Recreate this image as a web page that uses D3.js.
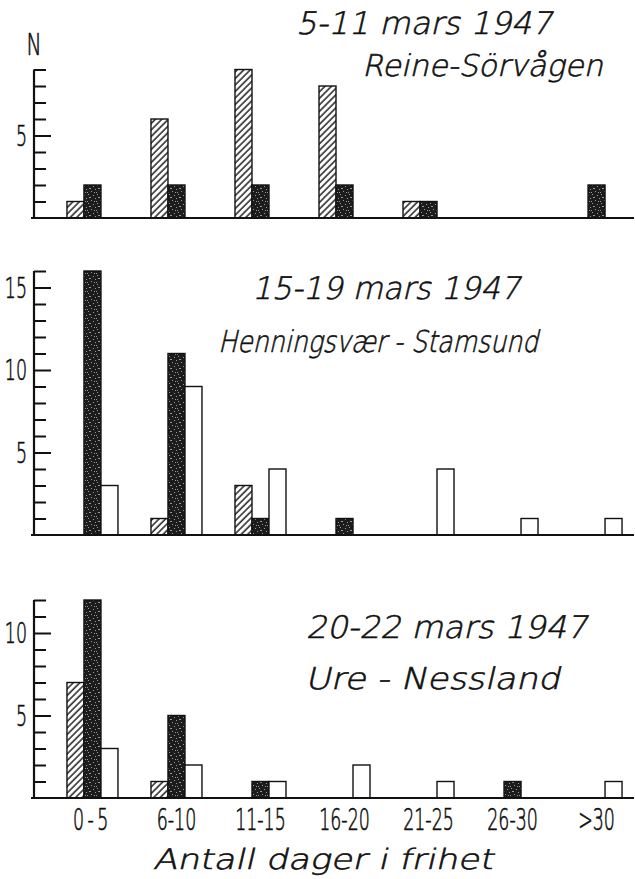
<!DOCTYPE html>
<html>
<head>
<meta charset="utf-8">
<script src="https://cdn.jsdelivr.net/npm/d3@7"></script>
<style>
  body { margin: 0; background: #fff; }
  .hand { font-family: "DejaVu Sans", sans-serif; font-weight: 200; fill: #111; stroke: #111; stroke-width: 0.6; }
  .num { font-family: "DejaVu Sans", sans-serif; font-weight: 200; fill: #111; stroke: #111; stroke-width: 0.7; }
</style>
</head>
<body>
<div id="chart"></div>
<script>
// categories (days at liberty) and the three series
let categories = ['0-5', '6-10', '11-15', '16-20', '21-25', '26-30', '>30'];
let seriesKeys = ['hatched', 'black', 'white'];

// 5-11 mars 1947, Reine - Sörvågen
let reineHatched = [1, 6, 9, 8, 1, 0, 0];
let reineBlack = [2, 2, 2, 2, 1, 0, 2];
let reineWhite = [0, 0, 0, 0, 0, 0, 0];

// 15-19 mars 1947, Henningsvær - Stamsund
let henningHatched = [0, 1, 3, 0, 0, 0, 0];
let henningBlack = [16, 11, 1, 1, 0, 0, 0];
let henningWhite = [3, 9, 4, 0, 4, 1, 1];

// 20-22 mars 1947, Ure - Nessland
let ureHatched = [7, 1, 0, 0, 0, 0, 0];
let ureBlack = [12, 5, 1, 0, 0, 1, 0];
let ureWhite = [3, 2, 1, 2, 1, 0, 1];

let panelDates = ['5-11 mars 1947', '15-19 mars 1947', '20-22 mars 1947'];
let panelPlaces = ['Reine-Sörvågen', 'Henningsvær - Stamsund', 'Ure - Nessland'];
let panelMax = [9, 16, 12];
let xTitle = 'Antall dager i frihet';
let yTitle = 'N';

const width = 635, height = 879;

let panels = [
    { hatched: reineHatched, black: reineBlack, white: reineWhite, base: 218,
      date: { x: 296, y: 34, w: 256 }, place: { x: 362, y: 76, w: 241 } },
    { hatched: henningHatched, black: henningBlack, white: henningWhite, base: 535,
      date: { x: 252, y: 299, w: 268 }, place: { x: 218, y: 352, w: 320 } },
    { hatched: ureHatched, black: ureBlack, white: ureWhite, base: 798,
      date: { x: 306, y: 638, w: 281 }, place: { x: 305, y: 689, w: 255 } }
];

let svg = d3.select('#chart').append('svg')
    .attr('width', width)
    .attr('height', height);

svg.append('rect').attr('width', width).attr('height', height).attr('fill', '#fff');

// fill patterns
let defs = svg.append('defs');
let hatch = defs.append('pattern')
    .attr('id', 'hatch')
    .attr('patternUnits', 'userSpaceOnUse')
    .attr('width', 4.6).attr('height', 4.6)
    .attr('patternTransform', 'rotate(45)');
hatch.append('rect').attr('width', 4.6).attr('height', 4.6).attr('fill', '#fff');
hatch.append('line')
    .attr('x1', 1).attr('y1', 0).attr('x2', 1).attr('y2', 4.6)
    .attr('stroke', '#111').attr('stroke-width', 1.4);

let speckle = defs.append('pattern')
    .attr('id', 'speckle')
    .attr('patternUnits', 'userSpaceOnUse')
    .attr('width', 9).attr('height', 9);
speckle.append('rect').attr('width', 9).attr('height', 9).attr('fill', '#1c1c1c');
[[1, 2], [5, 0], [7, 5], [3, 6], [0, 8], [6, 3], [4, 3], [8, 8]].forEach(p => {
    speckle.append('rect')
        .attr('x', p[0]).attr('y', p[1])
        .attr('width', 1).attr('height', 1)
        .attr('fill', '#999');
});

let fills = { hatched: 'url(#hatch)', black: 'url(#speckle)', white: '#fff' };

// x scales shared by all three panels
let x = d3.scaleBand()
    .domain(categories)
    .range([50.5, 638.5])
    .paddingInner(0.393)
    .paddingOuter(0.196);
let xSeries = d3.scaleBand()
    .domain(seriesKeys)
    .range([0, x.bandwidth()]);

const unit = 16.5;
const axisX = 34;
const narrow = 0.6;
const slant = 'skewX(-13)';

// slanted lettering; light face sheared by hand
function handText(sel, px, py, size, len, txt) {
    return sel.append('text')
        .classed('hand', true)
        .attr('transform', `translate(${px},${py}) ${slant}`)
        .attr('font-size', size)
        .attr('textLength', len)
        .attr('lengthAdjust', 'spacingAndGlyphs')
        .text(txt);
}

panels.forEach((p, pi) => {
    let yMax = panelMax[pi];
    let y = d3.scaleLinear()
        .domain([0, yMax])
        .range([p.base, p.base - yMax * unit]);
    let g = svg.append('g');

    // bars
    let rows = [];
    categories.forEach((c, i) => {
        seriesKeys.forEach(k => {
            if (p[k][i] > 0) rows.push({ cat: c, key: k, value: p[k][i] });
        });
    });
    g.selectAll('rect.bar')
        .data(rows)
        .enter()
        .append('rect')
        .classed('bar', true)
        .attr('x', d => x(d.cat) + xSeries(d.key))
        .attr('y', d => y(d.value))
        .attr('width', xSeries.bandwidth())
        .attr('height', d => y(0) - y(d.value))
        .attr('fill', d => fills[d.key])
        .attr('stroke', '#111')
        .attr('stroke-width', 1.4);

    // minor ticks
    let ticks = d3.range(1, yMax + 1);
    g.append('g')
        .attr('transform', `translate(${axisX},0)`)
        .call(d3.axisRight(y).tickValues(ticks.filter(t => t % 5 !== 0)).tickSize(12).tickFormat(''))
        .call(a => a.select('.domain').remove())
        .call(a => a.selectAll('line').attr('stroke', '#111').attr('stroke-width', 2));
    // major ticks
    g.append('g')
        .attr('transform', `translate(${axisX},0)`)
        .call(d3.axisRight(y).tickValues(ticks.filter(t => t % 5 === 0)).tickSize(17).tickFormat(''))
        .call(a => a.select('.domain').remove())
        .call(a => a.selectAll('line').attr('stroke', '#111').attr('stroke-width', 2));

    // tick labels on the left, narrow lettering
    g.selectAll('text.ylab')
        .data(ticks.filter(t => t % 5 === 0))
        .enter()
        .append('text')
        .classed('ylab num', true)
        .attr('transform', d => `translate(27,${y(d) + 10}) scale(${narrow},1)`)
        .attr('text-anchor', 'end')
        .attr('font-size', 29)
        .text(d => d);

    // axis lines
    g.append('line')
        .attr('x1', axisX).attr('x2', axisX)
        .attr('y1', y(yMax)).attr('y2', y(0))
        .attr('stroke', '#111').attr('stroke-width', 2.2);
    g.append('line')
        .attr('x1', axisX - 3).attr('x2', 634)
        .attr('y1', y(0)).attr('y2', y(0))
        .attr('stroke', '#111').attr('stroke-width', 2);

    // titles
    handText(g, p.date.x, p.date.y, 31, p.date.w, panelDates[pi]);
    handText(g, p.place.x, p.place.y, 30, p.place.w, panelPlaces[pi]);
});

// x tick labels under the bottom panel
svg.append('g')
    .selectAll('text')
    .data(categories)
    .enter()
    .append('text')
    .classed('num', true)
    .attr('transform', d => `translate(${x(d) + x.bandwidth() / 2},830) scale(0.58,1)`)
    .attr('text-anchor', 'middle')
    .attr('font-size', 30)
    .attr('letter-spacing', d => d.length === 3 && d[0] !== '>' ? 6 : 0)
    .text(d => d);

handText(svg, 153, 869, 28, 340, xTitle);

svg.append('text')
    .classed('num', true)
    .attr('transform', `translate(34,55) scale(0.65,1)`)
    .attr('text-anchor', 'middle')
    .attr('font-size', 31)
    .text(yTitle);
</script>
</body>
</html>
